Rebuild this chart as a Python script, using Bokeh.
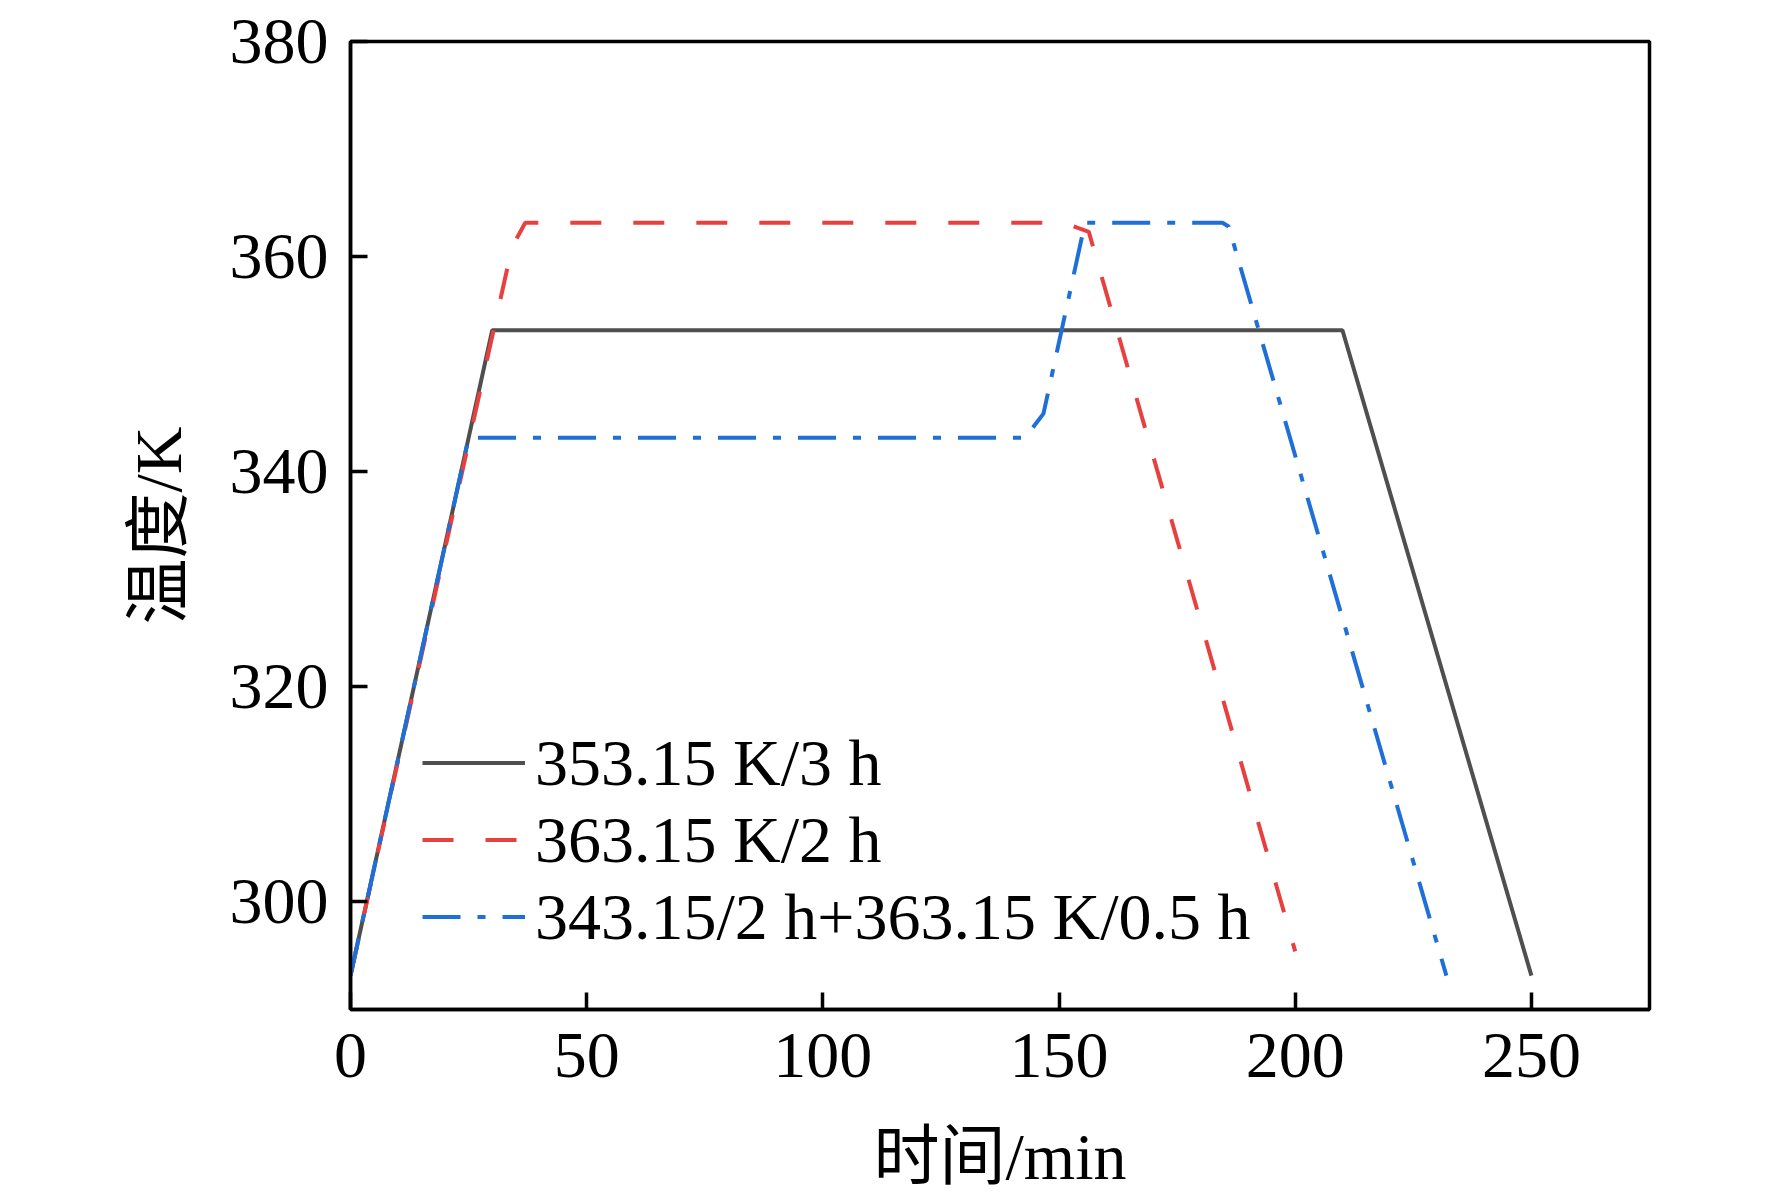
from bokeh.plotting import figure
from bokeh.models import Range1d, Legend, LegendItem, FixedTicker
from bokeh.embed import file_html
from bokeh.resources import INLINE

# ---- data ----
time_353 = [0, 30, 210, 250]
temp_353 = [293.15, 353.15, 353.15, 293.15]

time_363 = [0, 34.2, 37, 151, 156.3, 200]
temp_363 = [293.15, 360.9, 363.15, 363.15, 362.3, 295.4]

time_343 = [0, 25, 142.8, 146.7, 155.5, 184.6, 185.9, 232]
temp_343 = [293.15, 343.15, 343.15, 345.4, 363.15, 363.15, 362.8, 293.15]

labels = ["353.15 K/3 h", "363.15 K/2 h", "343.15/2 h+363.15 K/0.5 h"]
x_ticks = [0, 50, 100, 150, 200, 250]
y_ticks = [300, 320, 340, 360, 380]

SERIF = "Liberation Serif"
MIXED = "Liberation Serif, Noto Sans CJK SC"

W, H = 1770, 1203
FL, FT, FR, FB = 350, 41, 1649, 1009
p = figure(width=W, height=H,
           x_range=Range1d(0, 275), y_range=Range1d(290, 380),
           output_backend="svg", toolbar_location=None,
           min_border_left=FL, min_border_top=FT,
           min_border_right=W - FR, min_border_bottom=H - FB,
           background_fill_color="white", border_fill_color="white")

p.xgrid.visible = False
p.ygrid.visible = False
p.outline_line_color = "black"
p.outline_line_width = 3.5
p.outline_line_alpha = 1.0

p.xaxis.ticker = FixedTicker(ticks=x_ticks)
p.yaxis.ticker = FixedTicker(ticks=y_ticks)
for ax in (p.xaxis[0], p.yaxis[0]):
    ax.axis_line_color = "black"
    ax.axis_line_width = 3.5
    ax.major_tick_line_color = "black"
    ax.major_tick_line_width = 3.5
    ax.major_tick_in = 17
    ax.major_tick_out = 0
    ax.minor_tick_line_color = None
    ax.major_label_text_font = SERIF
    ax.major_label_text_font_size = "66px"
    ax.major_label_text_color = "black"
    ax.axis_label_text_font = MIXED
    ax.axis_label_text_font_size = "66px"
    ax.axis_label_text_font_style = "normal"
    ax.axis_label_text_color = "black"

p.xaxis.axis_label = "时间/min"
p.yaxis.axis_label = "温度/K"
p.xaxis.major_label_standoff = 24
p.yaxis.major_label_standoff = 22
p.xaxis.axis_label_standoff = 40
p.yaxis.axis_label_standoff = 32

r1 = p.line(time_353, temp_353, line_color="#4f4f4f", line_width=4)
r2 = p.line(time_363, temp_363, line_color="#e8403f", line_width=4,
            line_dash="31 32")
r3 = p.line(time_343, temp_343, line_color="#1f6fd8", line_width=4,
            line_dash="38 17 8 17")

legend = Legend(items=[LegendItem(label=labels[0], renderers=[r1]),
                       LegendItem(label=labels[1], renderers=[r2]),
                       LegendItem(label=labels[2], renderers=[r3])],
                location=(72, 54), padding=0, margin=0, spacing=0,
                glyph_width=103, glyph_height=77, label_height=77,
                label_standoff=10,
                label_text_font=SERIF, label_text_font_size="66px",
                label_text_color="black",
                border_line_alpha=0, background_fill_alpha=0)
p.add_layout(legend)

open("out.html", "w").write(file_html(p, INLINE))
